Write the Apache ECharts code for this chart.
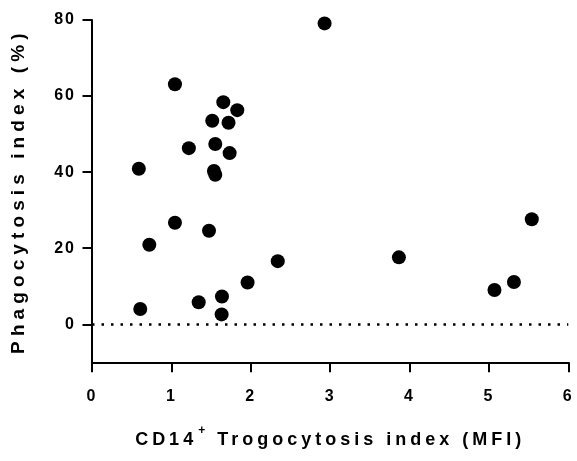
<!DOCTYPE html>
<html>
<head>
<meta charset="utf-8">
<script src="https://cdn.jsdelivr.net/npm/echarts@6/dist/echarts.min.js"></script>
<style>
  html, body { margin: 0; padding: 0; background: #ffffff; }
  #chart { width: 577px; height: 461px; }
</style>
</head>
<body>
<div id="chart"></div>
<script>
// ---- Data ----
const trogocytosisMFI = [2.93, 1.045, 1.654, 1.83, 1.515, 1.72, 1.553, 1.22, 1.734, 0.59, 1.536, 1.553,
                         0.722, 1.045, 1.474, 2.34, 1.96, 1.637, 1.344, 0.608, 1.633, 3.866, 5.54, 5.315, 5.07];
const phagocytosisPct = [79.1, 63.1, 58.4, 56.3, 53.5, 53.0, 47.4, 46.3, 45.0, 40.9, 40.3, 39.3,
                         20.9, 26.7, 24.6, 16.6, 11.0, 7.3, 5.8, 4.0, 2.6, 17.6, 27.6, 11.1, 9.0];
const yTickValues = [0, 20, 40, 60, 80];
const baselineValue = 0;
const xTitle = 'CD14+ Trogocytosis index (MFI)';
const yTitle = 'Phagocytosis index (%)';

// ---- Letter spacing (the reference uses spaced-out bold text) ----
(function () {
  const P = CanvasRenderingContext2D.prototype;
  if (!('letterSpacing' in P)) return;
  const pick = function (font) {
    const m = /(\d+(?:\.\d+)?)px/.exec(font || '');
    const s = m ? parseFloat(m[1]) : 0;
    if (s === 16) return '2px';
    if (s === 18) return '4px';
    if (s === 19) return '5.1px';
    return '0px';
  };
  const ft = P.fillText, mt = P.measureText;
  P.fillText = function (t, x, y, w) {
    this.letterSpacing = pick(this.font);
    return w === undefined ? ft.call(this, t, x, y) : ft.call(this, t, x, y, w);
  };
  P.measureText = function (t) {
    this.letterSpacing = pick(this.font);
    return mt.call(this, t);
  };
})();

const FONT = '"Liberation Sans", Arial, sans-serif';
const points = trogocytosisMFI.map((x, i) => [x, phagocytosisPct[i]]);
const xParts = xTitle.split('+');

const chart = echarts.init(document.getElementById('chart'), null, { renderer: 'canvas' });
chart.setOption({
  animation: false,
  backgroundColor: '#ffffff',
  grid: { left: 92, right: 8.7, top: 20, bottom: 98.7, containLabel: false, outerBoundsMode: 'none' },
  xAxis: {
    type: 'value',
    min: 0, max: 6, interval: 1,
    name: '{m|' + xParts[0] + '}{s|+}{m|' + xParts[1] + '}',
    nameLocation: 'middle',
    nameGap: 62,
    nameTextStyle: {
      color: '#000', fontFamily: FONT, fontWeight: 'bold', fontSize: 18,
      rich: {
        m: { color: '#000', fontFamily: FONT, fontWeight: 'bold', fontSize: 18, lineHeight: 32 },
        s: { color: '#000', fontFamily: FONT, fontWeight: 'bold', fontSize: 12, lineHeight: 6, verticalAlign: 'top', padding: [0, 3, 0, 1] }
      }
    },
    axisLine: { show: true, onZero: false, lineStyle: { color: '#000', width: 2 } },
    axisTick: { show: true, inside: false, length: 10, lineStyle: { color: '#000', width: 2 } },
    axisLabel: { color: '#000', fontFamily: FONT, fontWeight: 'bold', fontSize: 16, margin: 25 },
    splitLine: { show: false }
  },
  yAxis: {
    type: 'value',
    min: -10, max: 80, interval: 10,
    name: yTitle,
    nameLocation: 'middle',
    nameGap: 61,
    nameRotate: 90,
    nameTextStyle: { color: '#000', fontFamily: FONT, fontWeight: 'bold', fontSize: 19 },
    axisLine: { show: true, onZero: false, lineStyle: { color: '#000', width: 2 } },
    axisTick: { show: true, inside: false, length: 9.5, customValues: yTickValues, lineStyle: { color: '#000', width: 2 } },
    axisLabel: { color: '#000', fontFamily: FONT, fontWeight: 'bold', fontSize: 16, margin: 16, customValues: yTickValues },
    splitLine: { show: false }
  },
  series: [{
    type: 'scatter',
    data: points,
    symbol: 'circle',
    symbolSize: 14,
    itemStyle: { color: '#000', opacity: 1 },
    markLine: {
      silent: true,
      symbol: ['none', 'none'],
      label: { show: false },
      lineStyle: { color: '#000', width: 2.5, type: [2.5, 7], cap: 'butt' },
      emphasis: { disabled: true },
      data: [{ yAxis: baselineValue }]
    },
    z: 3
  }]
});
</script>
</body>
</html>
